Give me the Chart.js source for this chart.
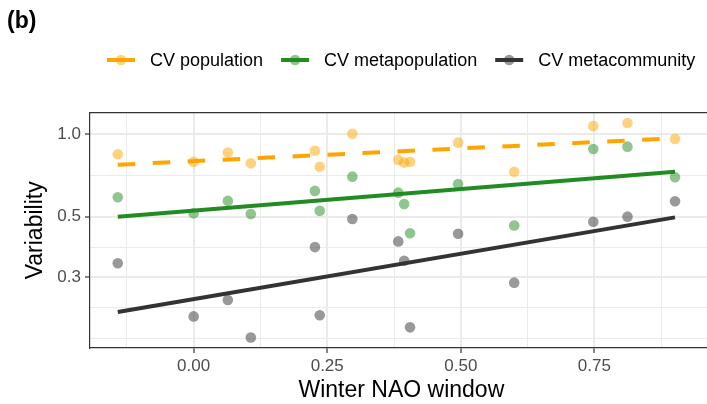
<!DOCTYPE html>
<html>
<head>
<meta charset="utf-8">
<script src="https://cdn.jsdelivr.net/npm/chart.js@4.4.1/dist/chart.umd.min.js"></script>
<style>
  html, body { margin: 0; padding: 0; background: #fff; overflow: hidden; }
  canvas { display: block; }
</style>
</head>
<body>
<canvas id="myChart" width="718" height="404"></canvas>
<script>
// Winter NAO window for each point
const xValues = [-0.142, 0.000, 0.064, 0.107, 0.227, 0.236, 0.297, 0.383, 0.394, 0.405, 0.495, 0.600, 0.748, 0.812, 0.901];

const cvPopulation = [0.845, 0.794, 0.857, 0.783, 0.871, 0.761, 1.005, 0.806, 0.788, 0.794, 0.932, 0.730, 1.072, 1.100, 0.961];
const cvMetapopulation = [0.589, 0.514, 0.571, 0.511, 0.621, 0.525, 0.700, 0.612, 0.556, 0.435, 0.658, 0.464, 0.884, 0.901, 0.697];
const cvMetacommunity = [0.338, 0.216, 0.248, 0.181, 0.387, 0.218, 0.490, 0.406, 0.345, 0.197, 0.433, 0.287, 0.479, 0.500, 0.569];

// fitted lines (ends)
const fitX = [-0.142, 0.901];
const fitPopulation = [0.774, 0.967];
const fitMetapopulation = [0.500, 0.730];
const fitMetacommunity = [0.224, 0.497];

const seriesNames = ['CV population', 'CV metapopulation', 'CV metacommunity'];

const xMajor = [0, 0.25, 0.5, 0.75];
const xMinor = [-0.125, 0.125, 0.375, 0.625, 0.875];
const yMajor = [0.3, 0.5, 1.0];
const yMinor = [0.1798, 0.2324, 0.3873, 0.7071];

const lineColors = ['#FFA500', '#228B22', '#333333'];
const pointColors = ['rgba(255,165,0,0.5)', 'rgba(34,139,34,0.5)', 'rgba(51,51,51,0.5)'];

const font = '"Liberation Sans", Arial, Helvetica, sans-serif';

function toPoints(xs, ys) {
    return xs.map((x, i) => ({ x: x, y: ys[i] }));
}

const pointSeries = [cvPopulation, cvMetapopulation, cvMetacommunity];
const fitSeries = [fitPopulation, fitMetapopulation, fitMetacommunity];

const datasets = [];
fitSeries.forEach((ys, i) => {
    datasets.push({
        label: seriesNames[i] + ' fit',
        data: toPoints(fitX, ys),
        showLine: true,
        borderColor: lineColors[i],
        borderWidth: 4,
        borderDash: i === 0 ? [17.5, 17.5] : [],
        pointRadius: 0,
        order: 0
    });
});
pointSeries.forEach((ys, i) => {
    datasets.push({
        label: seriesNames[i],
        data: toPoints(xValues, ys),
        backgroundColor: pointColors[i],
        borderWidth: 0,
        pointRadius: 5.3,
        order: 1
    });
});

const isMajor = (list, v) => list.some(m => Math.abs(m - v) < 1e-6);

// ggplot style key in one row above the panel (line + dot, then label)
const keyLegend = {
    id: 'keyLegend',
    afterDraw(chart) {
        const ctx = chart.ctx;
        const y = 60;
        let x = 107;
        ctx.save();
        ctx.font = '18px ' + font;
        ctx.textBaseline = 'middle';
        ctx.textAlign = 'left';
        seriesNames.forEach((name, i) => {
            ctx.fillStyle = pointColors[i];
            ctx.beginPath();
            ctx.arc(x + 14, y, 5.3, 0, Math.PI * 2);
            ctx.fill();
            ctx.strokeStyle = lineColors[i];
            ctx.lineWidth = 4;
            ctx.beginPath();
            ctx.moveTo(x, y);
            ctx.lineTo(x + 28, y);
            ctx.stroke();
            ctx.fillStyle = '#000';
            ctx.fillText(name, x + 43, y + 1);
            x += 43 + ctx.measureText(name).width + 18;
        });
        ctx.restore();
    }
};

const config = {
    type: 'scatter',
    data: { datasets: datasets },
    options: {
        responsive: false,
        animation: false,
        layout: { padding: { left: 7, right: 0, top: 0, bottom: 0 } },
        plugins: {
            tooltip: { enabled: false },
            legend: { display: false },
            title: {
                display: true,
                text: '(b)',
                align: 'start',
                color: '#000',
                font: { family: font, size: 23, weight: 'bold', lineHeight: 1 },
                padding: { top: 10, bottom: 0 }
            }
        },
        scales: {
            x: {
                type: 'linear',
                position: 'bottom',
                min: -0.194,
                max: 0.9715,
                afterBuildTicks: (s) => {
                    s.ticks = xMinor.concat(xMajor).sort((a, b) => a - b).map(v => ({ value: v }));
                },
                afterFit: (s) => { s.height = 56; },
                ticks: {
                    autoSkip: false,
                    maxRotation: 0,
                    padding: 3,
                    color: '#4D4D4D',
                    font: { family: font, size: 17 },
                    callback: (v) => isMajor(xMajor, v) ? v.toFixed(2) : ''
                },
                grid: {
                    color: '#EBEBEB',
                    lineWidth: (ctx) => (ctx.tick && isMajor(xMajor, ctx.tick.value)) ? 2 : 1,
                    tickColor: (ctx) => (ctx.tick && isMajor(xMajor, ctx.tick.value)) ? '#333333' : 'rgba(0,0,0,0)',
                    tickLength: 5,
                    tickWidth: 1.2
                },
                border: { display: true, color: '#333333', width: 1.2 },
                title: {
                    display: true,
                    text: 'Winter NAO window',
                    color: '#000',
                    font: { family: font, size: 23, lineHeight: 1.2 },
                    padding: { top: 0, bottom: 0 }
                }
            },
            xTop: {
                type: 'linear',
                position: 'top',
                min: -0.194,
                max: 0.9715,
                afterFit: (s) => { s.height = 79.7; },
                ticks: { display: false },
                grid: { drawOnChartArea: false, drawTicks: false },
                border: { display: true, color: '#333333', width: 1.2 }
            },
            y: {
                type: 'logarithmic',
                position: 'left',
                min: 0.1656,
                max: 1.199,
                afterBuildTicks: (s) => {
                    s.ticks = yMinor.concat(yMajor).sort((a, b) => a - b).map(v => ({ value: v }));
                },
                afterFit: (s) => { s.width = 83; },
                ticks: {
                    autoSkip: false,
                    padding: 4,
                    color: '#4D4D4D',
                    font: { family: font, size: 17 },
                    callback: (v) => isMajor(yMajor, v) ? Number(v).toFixed(1) : ''
                },
                grid: {
                    color: '#EBEBEB',
                    lineWidth: (ctx) => (ctx.tick && isMajor(yMajor, ctx.tick.value)) ? 2 : 1,
                    tickColor: (ctx) => (ctx.tick && isMajor(yMajor, ctx.tick.value)) ? '#333333' : 'rgba(0,0,0,0)',
                    tickLength: 5,
                    tickWidth: 1.2
                },
                border: { display: true, color: '#333333', width: 1.2 },
                title: {
                    display: true,
                    text: 'Variability',
                    color: '#000',
                    font: { family: font, size: 23, lineHeight: 1.2 },
                    padding: { top: 15, bottom: 0 }
                }
            }
        }
    },
    plugins: [keyLegend]
};

const canvas = document.getElementById('myChart');
const myChart = new Chart(canvas, config);
</script>
</body>
</html>
